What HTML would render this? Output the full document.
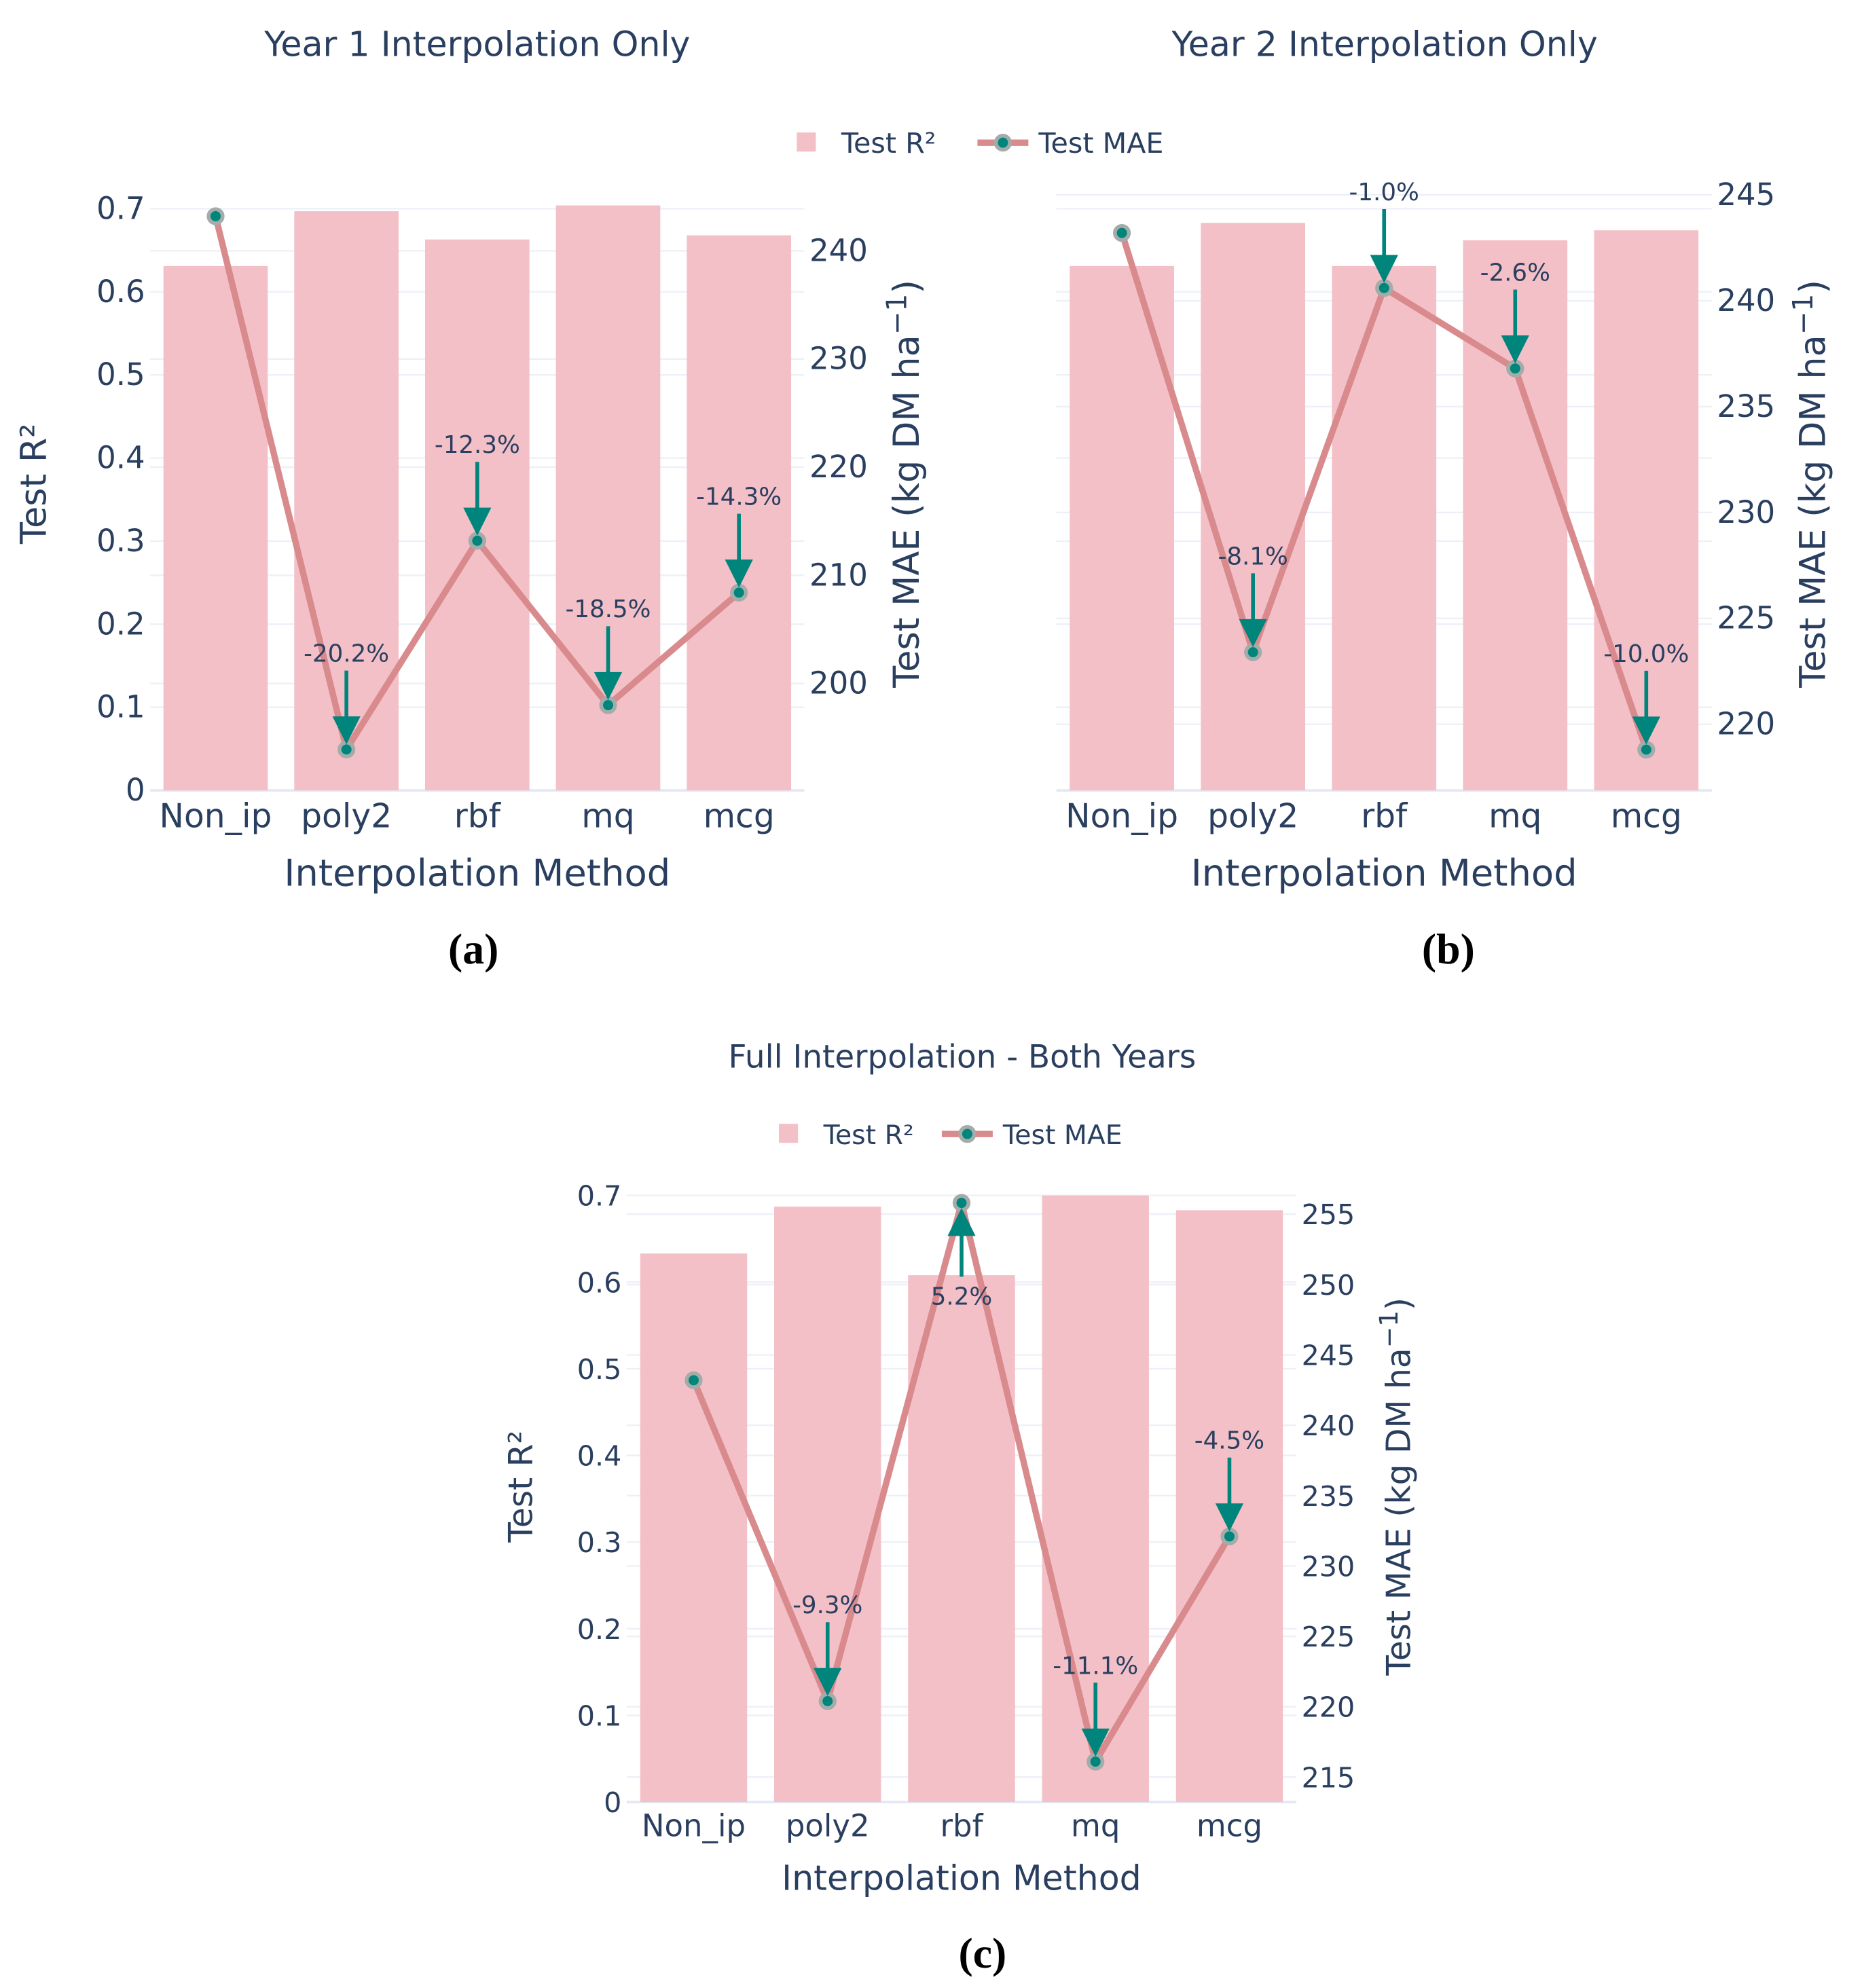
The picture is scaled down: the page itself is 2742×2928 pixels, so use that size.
<!DOCTYPE html>
<html><head><meta charset="utf-8">
<style>
html,body{margin:0;padding:0;background:#fff;}
svg{display:block;}
text{font-family:"DejaVu Sans","Liberation Sans",sans-serif;fill:#2a3f5f;}
.serif{font-family:"Liberation Serif",serif;fill:#000;font-weight:bold;}
</style></head>
<body>
<svg id="fig" width="2742" height="2928" viewBox="0 0 1463 1562" xmlns="http://www.w3.org/2000/svg">
<g id="root"></g>
</svg>
<script>
const categories = ["Non_ip","poly2","rbf","mq","mcg"];
const r2A = [0.631,0.697,0.663,0.704,0.668];
const maeA = [243.2,193.9,213.2,198.0,208.4];
const pctA = ["","-20.2%","-12.3%","-18.5%","-14.3%"];
const r2B = [0.631,0.683,0.631,0.662,0.674];
const maeB = [243.2,223.4,240.6,236.8,218.8];
const pctB = ["","-8.1%","-1.0%","-2.6%","-10.0%"];
const r2C = [0.633,0.687,0.608,0.700,0.683];
const maeC = [243.2,220.4,255.8,216.1,232.1];
const pctC = ["","-9.3%","5.2%","-11.1%","-4.5%"];
const r2Ticks = [0,0.1,0.2,0.3,0.4,0.5,0.6,0.7];
const maeTicksA = [200,210,220,230,240];
const maeTicksB = [220,225,230,235,240,245];
const maeTicksC = [215,220,225,230,235,240,245,250,255];

const NS="http://www.w3.org/2000/svg";
const root=document.getElementById('root');
function mk(tag,attrs,parent,txt){const e=document.createElementNS(NS,tag);for(const k in attrs)e.setAttribute(k,attrs[k]);if(txt!==undefined)e.textContent=txt;(parent||root).appendChild(e);return e;}

const panels=[
 {id:'a',x0:118,x1:632,zeroY:621,pr:653,rRef:240,rY:197,rPer:8.5,r2:r2A,mae:maeA,pct:pctA,mt:maeTicksA,showLeft:true,
  bw:82,fs:24,title:"Year 1 Interpolation Only",tx:375,ty:44,rLabX:722,lLabX:36,labY:380,xtY:696,catY:650,sub:"(a)",subX:372,subY:757,legend:null},
 {id:'b',x0:830,x1:1345,zeroY:621,pr:653,rRef:245,rY:153,rPer:16.64,r2:r2B,mae:maeB,pct:pctB,mt:maeTicksB,showLeft:false,
  bw:82,fs:24,title:"Year 2 Interpolation Only",tx:1088,ty:44,rLabX:1434,lLabX:null,labY:380,xtY:696,catY:650,sub:"(b)",subX:1138,subY:757,
  legend:{x:626,y:112,fs:22}},
 {id:'c',x0:492.4,x1:1018.6,zeroY:1416,pr:681,rRef:255,rY:954,rPer:11.06,r2:r2C,mae:maeC,pct:pctC,mt:maeTicksC,showLeft:true,
  bw:84,fs:22,title:"Full Interpolation - Both Years",tx:756,ty:839,rLabX:1108,lLabX:418,labY:1168,xtY:1485,catY:1443,sub:"(c)",subX:772,subY:1546,
  legend:{x:612,y:891,fs:21}}
];

panels.forEach(p=>{
 const g=mk('g',{});
 
 
 const yL=v=>p.zeroY-v*p.pr;
 const yR=m=>p.rY+(p.rRef-m)*p.rPer;
 const band=(p.x1-p.x0)/categories.length;
 const xc=i=>p.x0+(i+0.5)*band;
 r2Ticks.forEach(t=>{const l=mk('line',{x1:p.x0,x2:p.x1,y1:yL(t),y2:yL(t),stroke:t===0?'#e3e8f2':'#edf0f7','stroke-width':t===0?2:1.3},g);
  
  if(p.showLeft){const tt=mk('text',{x:p.x0-4,y:yL(t)+8,'text-anchor':'end','font-size':p.fs},g,String(t));
   }});
 p.mt.forEach(t=>{const l=mk('line',{x1:p.x0,x2:p.x1,y1:yR(t),y2:yR(t),stroke:'#edf0f7','stroke-width':1.3},g);
  
  const tt=mk('text',{x:p.x1+4,y:yR(t)+8,'font-size':p.fs},g,String(t));
  });
 p.r2.forEach((v,i)=>{const b=mk('rect',{x:xc(i)-p.bw/2,y:yL(v),width:p.bw,height:yL(0)-yL(v),fill:'#f4c0c8'},g);
  });
 const pts=p.mae.map((m,i)=>xc(i)+','+yR(m)).join(' ');
 const pl=mk('polyline',{points:pts,fill:'none',stroke:'#d98a8d','stroke-width':5,'stroke-linejoin':'round'},g);
 
 p.mae.forEach((m,i)=>{const c=mk('circle',{cx:xc(i),cy:yR(m),r:5.5,fill:'#00857c',stroke:'#a4acaa','stroke-width':3},g);
  });
 p.mae.forEach((m,i)=>{
  if(!p.pct[i])return;
  const up=p.pct[i][0]!=='-';
  const x=xc(i),tip=yR(m)+(up?4:-4);
  const ag=mk('g',{},g);
  
  if(!up){
   mk('line',{x1:x,x2:x,y1:tip-58,y2:tip-12,stroke:'#00857c','stroke-width':3},ag);
   mk('polygon',{points:(x-11)+','+(tip-22)+' '+(x+11)+','+(tip-22)+' '+x+','+tip,fill:'#00857c'},ag);
   mk('text',{x:x,y:tip-65,'text-anchor':'middle','font-size':19},ag,p.pct[i]);
  }else{
   mk('line',{x1:x,x2:x,y1:tip+54,y2:tip+12,stroke:'#00857c','stroke-width':3},ag);
   mk('polygon',{points:(x-11)+','+(tip+22)+' '+(x+11)+','+(tip+22)+' '+x+','+tip,fill:'#00857c'},ag);
   mk('text',{x:x,y:tip+76,'text-anchor':'middle','font-size':19},ag,p.pct[i]);
  }
 });
 categories.forEach((c,i)=>{const t=mk('text',{x:xc(i),y:p.catY,'text-anchor':'middle','font-size':p.fs+2},g,c);
  });
 const xt=mk('text',{x:(p.x0+p.x1)/2,y:p.xtY,'text-anchor':'middle','font-size':p.fs+5},g,'Interpolation Method');
 
 if(p.lLabX!==null){const t=mk('text',{x:p.lLabX,y:p.labY,'text-anchor':'middle','font-size':p.fs+4,transform:'rotate(-90 '+p.lLabX+' '+p.labY+')'},g,'Test R²');
  }
 const rt=mk('text',{x:p.rLabX,y:p.labY,'text-anchor':'middle','font-size':p.fs+4,transform:'rotate(-90 '+p.rLabX+' '+p.labY+')'},g);
 
 rt.appendChild(document.createTextNode('Test MAE (kg DM ha'));
 mk('tspan',{'font-size':(p.fs-2),dy:-10},rt,'−1');
 mk('tspan',{dy:10},rt,')');
 const ti=mk('text',{x:p.tx,y:p.ty,'text-anchor':'middle','font-size':p.fs+3},g,p.title);
 
 const su=mk('text',{x:p.subX,y:p.subY,'text-anchor':'middle','font-size':34,'class':'serif'},g,p.sub);
 
 if(p.legend){const L=p.legend;const lg=mk('g',{},g);
  
  const e1=mk('g',{},lg);
  mk('rect',{x:L.x,y:L.y-8,width:15,height:15,fill:'#f4c0c8'},e1);
  mk('text',{x:L.x+35,y:L.y+8,'font-size':L.fs},e1,'Test R²');
  const off=L.fs===22?142:128;
  const e2=mk('g',{},lg);
  mk('line',{x1:L.x+off,x2:L.x+off+40,y1:L.y,y2:L.y,stroke:'#d98a8d','stroke-width':5},e2);
  mk('circle',{cx:L.x+off+20,cy:L.y,r:5.5,fill:'#00857c',stroke:'#a4acaa','stroke-width':3},e2);
  mk('text',{x:L.x+off+48,y:L.y+8,'font-size':L.fs},e2,'Test MAE');}
});
</script>
</body></html>
